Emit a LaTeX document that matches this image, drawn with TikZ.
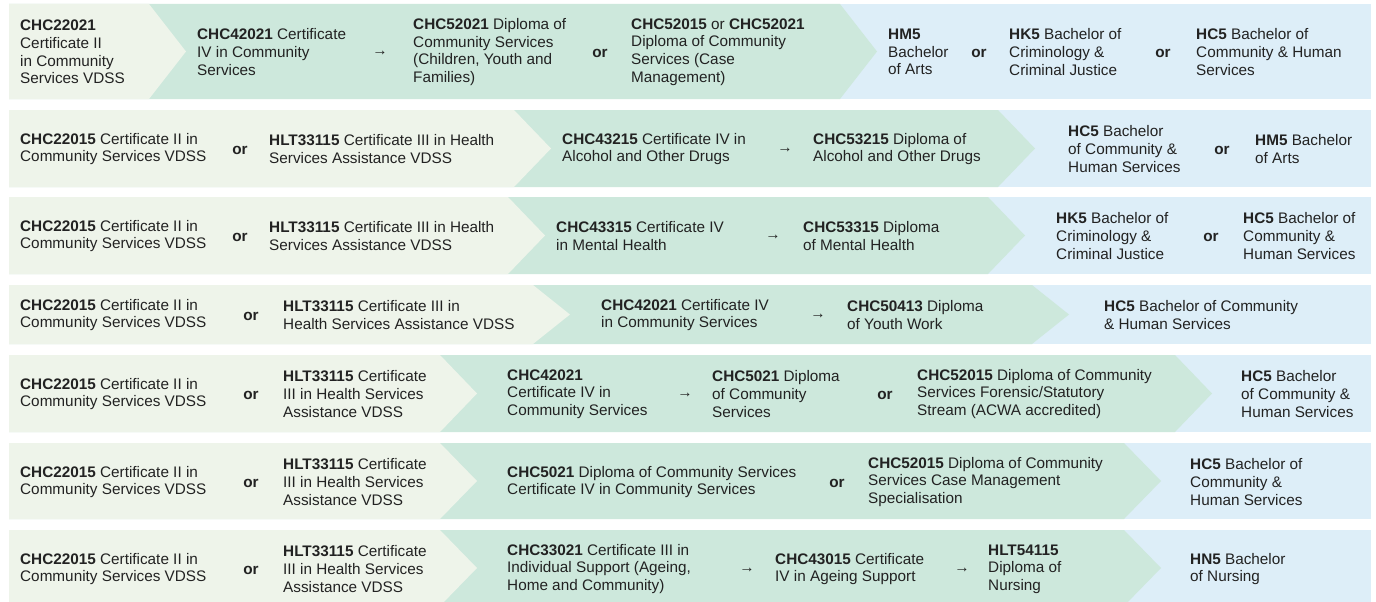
\documentclass[tikz,border=0pt]{standalone}
\usepackage{fontspec}
\setmainfont{Liberation Sans}
\definecolor{lightc}{HTML}{EEF4EA}
\definecolor{mintc}{HTML}{CDE8DC}
\definecolor{bluec}{HTML}{DDEEF8}
\definecolor{txtcol}{HTML}{222222}
\newcommand\fs{\fontsize{15.3}{17.6}\selectfont}
\newcommand\rowbg[4]{%
  \fill[bluec] (9,#1) rectangle (1371,#2);
  \fill[mintc] (9,#1) -- (#4,#1) -- ({#4+37},{(#1+#2)/2}) -- (#4,#2) -- (9,#2) -- cycle;
  \fill[lightc] (9,#1) -- (#3,#1) -- ({#3+37},{(#1+#2)/2}) -- (#3,#2) -- (9,#2) -- cycle;}
\tikzset{
  txt/.style={anchor=west, align=left, inner sep=0pt, font=\fs, text=txtcol},
  orlbl/.style={anchor=center, inner sep=0pt, font=\fs\bfseries, text=txtcol},
  arr/.style={anchor=center, inner sep=0pt, font=\fs, text=txtcol},
}
\begin{document}
\begin{tikzpicture}[x=1pt,y=-1pt]
\useasboundingbox (0,0) rectangle (1376,602);
\clip (0,0) rectangle (1376,602);
\fill[white] (0,0) rectangle (1376,602);
% backgrounds
\rowbg{4}{99}{149}{840}
\rowbg{110}{187}{514}{998}
\rowbg{197}{274}{508}{988}
\rowbg{285}{344}{533}{1032}
\rowbg{355}{432}{440}{1175}
\rowbg{443}{519}{440}{1124}
\rowbg{530}{606}{440}{1124}
% Row 1
\node[txt] (a1) at (20,52) {\textbf{CHC22021}\\Certificate II\\in Community\\Services VDSS};
\node[txt] (a2) at (197,52) {\textbf{CHC42021} Certificate\\IV in Community\\Services};
\node[arr] (a3) at (380,53) {→};
\node[txt] (a4) at (413,52) {\textbf{CHC52021} Diploma of\\Community Services\\(Children, Youth and\\Families)};
\node[orlbl] (a5) at (600,53) {or};
\node[txt] (a6) at (631,52) {\textbf{CHC52015} or \textbf{CHC52021}\\Diploma of Community\\Services (Case\\Management)};
\node[txt] (a7) at (888,52) {\textbf{HM5}\\Bachelor\\of Arts};
\node[orlbl] (a8) at (979,53) {or};
\node[txt] (a9) at (1009,52) {\textbf{HK5} Bachelor of\\Criminology \&\\Criminal Justice};
\node[orlbl] (a10) at (1163,53) {or};
\node[txt] (a11) at (1196,52) {\textbf{HC5} Bachelor of\\Community \& Human\\Services};
% Row 2
\node[txt] (b1) at (20,149) {\textbf{CHC22015} Certificate II in\\Community Services VDSS};
\node[orlbl] (b2) at (240,150) {or};
\node[txt] (b3) at (269,149) {\textbf{HLT33115} Certificate III in Health\\Services Assistance VDSS};
\node[txt] (b4) at (562,149) {\textbf{CHC43215} Certificate IV in\\Alcohol and Other Drugs};
\node[arr] (b5) at (785,150) {→};
\node[txt] (b6) at (813,149) {\textbf{CHC53215} Diploma of\\Alcohol and Other Drugs};
\node[txt] (b7) at (1068,149) {\textbf{HC5} Bachelor\\of Community \&\\Human Services};
\node[orlbl] (b8) at (1222,150) {or};
\node[txt] (b9) at (1255,149) {\textbf{HM5} Bachelor\\of Arts};
% Row 3
\node[txt] (c1) at (20,236) {\textbf{CHC22015} Certificate II in\\Community Services VDSS};
\node[orlbl] (c2) at (240,237) {or};
\node[txt] (c3) at (269,236) {\textbf{HLT33115} Certificate III in Health\\Services Assistance VDSS};
\node[txt] (c4) at (556,236) {\textbf{CHC43315} Certificate IV\\in Mental Health};
\node[arr] (c5) at (773,237) {→};
\node[txt] (c6) at (803,236) {\textbf{CHC53315} Diploma\\of Mental Health};
\node[txt] (c7) at (1056,236) {\textbf{HK5} Bachelor of\\Criminology \&\\Criminal Justice};
\node[orlbl] (c8) at (1211,237) {or};
\node[txt] (c9) at (1243,236) {\textbf{HC5} Bachelor of\\Community \&\\Human Services};
% Row 4
\node[txt] (d1) at (20,315) {\textbf{CHC22015} Certificate II in\\Community Services VDSS};
\node[orlbl] (d2) at (251,316) {or};
\node[txt] (d3) at (283,315) {\textbf{HLT33115} Certificate III in\\Health Services Assistance VDSS};
\node[txt] (d4) at (601,315) {\textbf{CHC42021} Certificate IV\\in Community Services};
\node[arr] (d5) at (818,316) {→};
\node[txt] (d6) at (847,315) {\textbf{CHC50413} Diploma\\of Youth Work};
\node[txt] (d7) at (1104,315) {\textbf{HC5} Bachelor of Community\\\& Human Services};
% Row 5
\node[txt] (e1) at (20,394) {\textbf{CHC22015} Certificate II in\\Community Services VDSS};
\node[orlbl] (e2) at (251,395) {or};
\node[txt] (e3) at (283,394) {\textbf{HLT33115} Certificate\\III in Health Services\\Assistance VDSS};
\node[txt] (e4) at (507,394) {\textbf{CHC42021}\\Certificate IV in\\Community Services};
\node[arr] (e5) at (685,395) {→};
\node[txt] (e6) at (712,394) {\textbf{CHC5021} Diploma\\of Community\\Services};
\node[orlbl] (e7) at (885,395) {or};
\node[txt] (e8) at (917,394) {\textbf{CHC52015} Diploma of Community\\Services Forensic/Statutory\\Stream (ACWA accredited)};
\node[txt] (e9) at (1241,394) {\textbf{HC5} Bachelor\\of Community \&\\Human Services};
% Row 6
\node[txt] (f1) at (20,482) {\textbf{CHC22015} Certificate II in\\Community Services VDSS};
\node[orlbl] (f2) at (251,483) {or};
\node[txt] (f3) at (283,482) {\textbf{HLT33115} Certificate\\III in Health Services\\Assistance VDSS};
\node[txt] (f4) at (507,482) {\textbf{CHC5021} Diploma of Community Services\\Certificate IV in Community Services};
\node[orlbl] (f5) at (837,483) {or};
\node[txt] (f6) at (868,482) {\textbf{CHC52015} Diploma of Community\\Services Case Management\\Specialisation};
\node[txt] (f7) at (1190,482) {\textbf{HC5} Bachelor of\\Community \&\\Human Services};
% Row 7
\node[txt] (g1) at (20,569) {\textbf{CHC22015} Certificate II in\\Community Services VDSS};
\node[orlbl] (g2) at (251,570) {or};
\node[txt] (g3) at (283,569) {\textbf{HLT33115} Certificate\\III in Health Services\\Assistance VDSS};
\node[txt] (g4) at (507,569) {\textbf{CHC33021} Certificate III in\\Individual Support (Ageing,\\Home and Community)};
\node[arr] (g5) at (747,570) {→};
\node[txt] (g6) at (775,569) {\textbf{CHC43015} Certificate\\IV in Ageing Support};
\node[arr] (g7) at (962,570) {→};
\node[txt] (g8) at (988,569) {\textbf{HLT54115}\\Diploma of\\Nursing};
\node[txt] (g9) at (1190,569) {\textbf{HN5} Bachelor\\of Nursing};
\end{tikzpicture}
\end{document}
